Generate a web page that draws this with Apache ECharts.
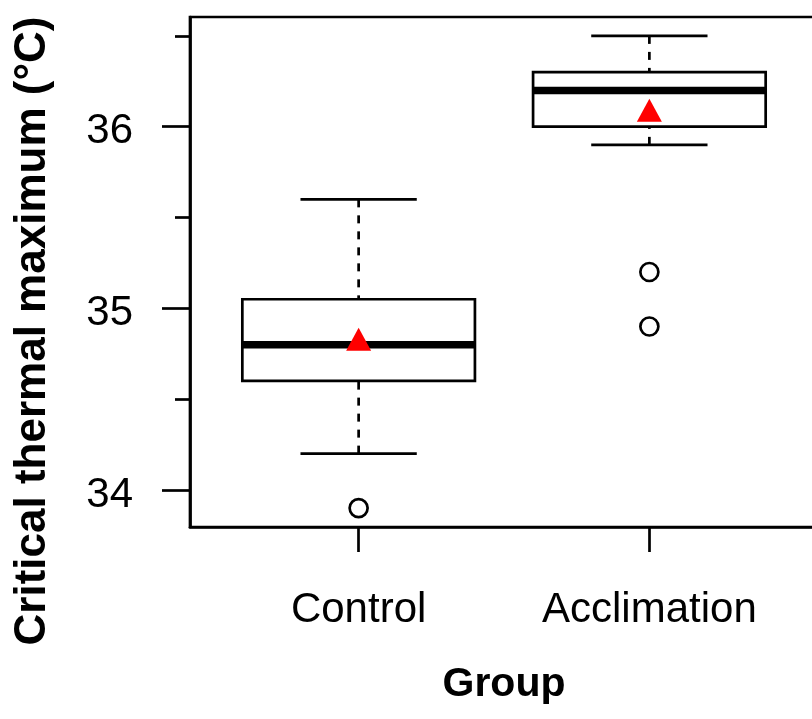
<!DOCTYPE html>
<html>
<head>
<meta charset="utf-8">
<script src="https://cdn.jsdelivr.net/npm/echarts@6/dist/echarts.min.js"></script>
<style>
  html, body { margin: 0; padding: 0; background: #fff; }
  #main { width: 812px; height: 719px; }
</style>
</head>
<body>
<div id="main"></div>
<script>
// groups on the x axis (plotted at 1, 2)
var categories = ['Control', 'Acclimation'];
// box statistics
var whiskerLow = [34.2, 35.9];
var q1 = [34.6, 36.0];
var median = [34.8, 36.2];
var q3 = [35.05, 36.3];
var whiskerHigh = [35.6, 36.5];
// group means (red triangles)
var means = [34.83, 36.09];
// outliers: [group index, value]
var outliers = [[0, 33.9], [1, 35.2], [1, 34.9]];
// y axis ticks
var majorTicks = [34, 35, 36];
var minorTicks = [34.5, 35.5, 36.5];

var font = "'Liberation Sans', Arial, sans-serif";
var lw = 2.7;

var boxData = categories.map(function (c, i) {
  return [i + 1, whiskerLow[i], q1[i], median[i], q3[i], whiskerHigh[i]];
});

function renderBox(params, api) {
  var x = api.value(0);
  var lo = api.coord([x, api.value(1)]);
  var b1 = api.coord([x, api.value(2)]);
  var md = api.coord([x, api.value(3)]);
  var b3 = api.coord([x, api.value(4)]);
  var hi = api.coord([x, api.value(5)]);
  var cx = lo[0];
  var half = api.size([0.8, 0])[0] / 2;
  var cap = half / 2;
  var thin = { stroke: '#000', lineWidth: lw, fill: null };
  var dashed = { stroke: '#000', lineWidth: lw, lineDash: [8, 8], fill: null };
  return {
    type: 'group',
    children: [
      { type: 'line', shape: { x1: cx, y1: lo[1], x2: cx, y2: b1[1] }, style: dashed },
      { type: 'line', shape: { x1: cx, y1: hi[1], x2: cx, y2: b3[1] }, style: dashed },
      { type: 'line', shape: { x1: cx - cap, y1: lo[1], x2: cx + cap, y2: lo[1] }, style: thin },
      { type: 'line', shape: { x1: cx - cap, y1: hi[1], x2: cx + cap, y2: hi[1] }, style: thin },
      {
        type: 'rect',
        shape: { x: cx - half, y: b3[1], width: half * 2, height: b1[1] - b3[1] },
        style: { fill: '#fff', stroke: '#000', lineWidth: lw }
      },
      { type: 'line', shape: { x1: cx - half, y1: md[1], x2: cx + half, y2: md[1] }, style: { stroke: '#000', lineWidth: 7.5 } }
    ]
  };
}

var myChart = echarts.init(document.getElementById('main'));
var option = {
  animation: false,
  backgroundColor: '#fff',
  grid: {
    left: 190,
    right: -6,
    top: 17,
    bottom: 192,
    show: true,
    borderColor: '#000',
    borderWidth: lw,
    outerBoundsMode: 'none',
    containLabel: false
  },
  graphic: [
    {
      type: 'text',
      x: 33,
      y: 331,
      rotation: Math.PI / 2,
      style: {
        text: 'Critical thermal maximum (°C)',
        fill: '#000',
        font: 'bold 44px ' + font,
        textAlign: 'center',
        textVerticalAlign: 'middle'
      }
    }
  ],
  xAxis: {
    type: 'value',
    min: 0.42,
    max: 2.58,
    name: 'Group',
    nameLocation: 'middle',
    nameGap: 137,
    nameTextStyle: { color: '#000', fontSize: 41, fontWeight: 'bold', fontFamily: font },
    axisLine: { show: true, lineStyle: { color: '#000', width: lw } },
    axisTick: { show: true, customValues: [1, 2], length: 25, lineStyle: { color: '#000', width: lw } },
    axisLabel: {
      customValues: [1, 2],
      formatter: function (v) { return categories[Math.round(v) - 1]; },
      color: '#000',
      fontSize: 42,
      fontFamily: font,
      margin: 62
    },
    splitLine: { show: false }
  },
  yAxis: [
    {
      type: 'value',
      min: 33.796,
      max: 36.604,
      axisLine: { show: true, lineStyle: { color: '#000', width: lw } },
      axisTick: { show: true, customValues: majorTicks, length: 28, lineStyle: { color: '#000', width: lw } },
      axisLabel: {
        customValues: majorTicks,
        formatter: function (v) { return '{t|' + v + '}'; },
        margin: 57,
        rich: {
          t: { color: '#000', fontSize: 42, fontFamily: font, padding: [10, 0, 0, 0] }
        }
      },
      splitLine: { show: false }
    },
    {
      // shorter ticks at the half units
      type: 'value',
      position: 'left',
      min: 33.796,
      max: 36.604,
      axisLine: { show: false },
      axisTick: { show: true, customValues: minorTicks, length: 15, lineStyle: { color: '#000', width: lw } },
      axisLabel: { show: false },
      splitLine: { show: false }
    }
  ],
  series: [
    {
      type: 'custom',
      renderItem: renderBox,
      data: boxData,
      encode: { x: 0, y: [1, 2, 3, 4, 5] },
      z: 2
    },
    {
      type: 'scatter',
      data: outliers.map(function (d) { return [d[0] + 1, d[1]]; }),
      symbol: 'circle',
      symbolSize: 18,
      itemStyle: { color: '#fff', borderColor: '#000', borderWidth: lw, opacity: 1 },
      z: 3
    },
    {
      type: 'scatter',
      data: means.map(function (m, i) { return [i + 1, m]; }),
      symbol: 'triangle',
      symbolSize: [25, 23],
      itemStyle: { color: '#ff0000', opacity: 1 },
      z: 4
    }
  ]
};
myChart.setOption(option);
</script>
</body>
</html>
